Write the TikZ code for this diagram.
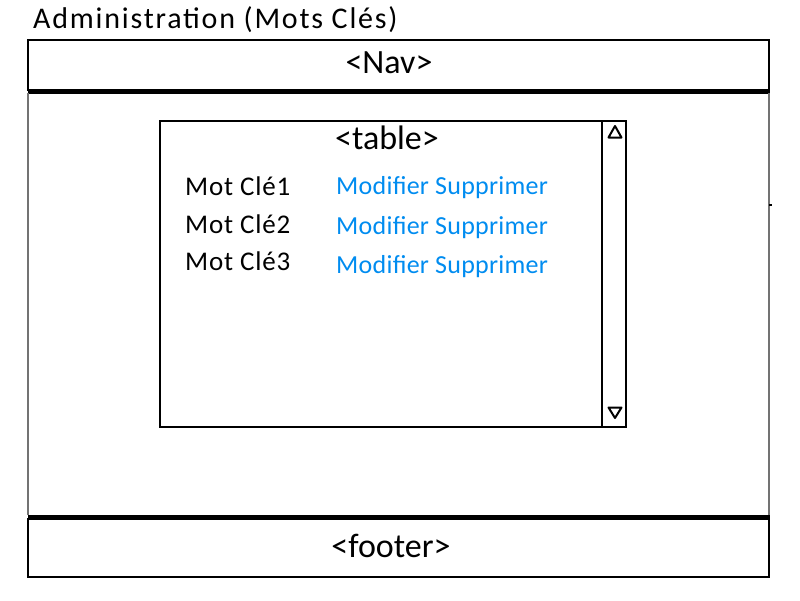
\documentclass[tikz,border=0pt]{standalone}
\usepackage{fontspec}
\setmainfont{Carlito}
\usepackage{xcolor}
\definecolor{linkblue}{RGB}{0,140,240}
\tikzstyle{every node}+=[inner sep=0pt]

\begin{document}
\begin{tikzpicture}[x=1pt,y=-1pt]
\tikzstyle{every node}+=[inner sep=0pt]
\tikzstyle{txt}=[font=\fontsize{34}{40}\selectfont, anchor=base]
\tikzstyle{row}=[anchor=base west, font=\fontsize{27}{30}\selectfont\addfontfeature{LetterSpace=3}]
\tikzstyle{frame}=[black, line width=2pt]
\tikzstyle{bar}=[black, line width=5pt]
\tikzstyle{side}=[black!55, line width=1.5pt]
\tikzstyle{link}=[anchor=base west, text=linkblue, font=\fontsize{26}{30}\selectfont\addfontfeature{LetterSpace=1}]
\useasboundingbox (0,0) rectangle (800,600);

% title
\node [anchor=base west, font=\fontsize{30}{34}\selectfont\addfontfeature{LetterSpace=6}] (title) at (33,28) {Administration (Mots Clés)};

% nav
\draw [frame] (28,91) -- (28,40) -- (769,40) -- (769,91);
\node [txt] (nav) at (389,73) {<Nav>};
\draw [bar] (28,91) -- (770,91);

% body
\draw [side] (28,93) -- (28,515);
\draw [side] (769,93) -- (769,515);
\draw [black, line width=1.5pt] (769,205) -- (772,205);

% table
\draw [frame] (160,121) rectangle (626,427);
\draw [frame] (602,121) -- (602,427);
\node [txt] (table) at (387,149) {<table>};
\draw [black, line width=2pt, line join=round] (615,126) -- (608.5,137.5) -- (621.5,137.5) -- cycle;
\draw [black, line width=2pt, line join=round] (615,418) -- (608.5,407.5) -- (621.5,407.5) -- cycle;

\node [row] (mot1) at (185,195) {Mot Clé1};
\node [row] (mot2) at (185,233) {Mot Clé2};
\node [row] (mot3) at (185,270) {Mot Clé3};
\node [link] (act1) at (336,194) {Modifier Supprimer};
\node [link] (act2) at (336,234) {Modifier Supprimer};
\node [link] (act3) at (336,273) {Modifier Supprimer};

% footer
\draw [bar] (28,517.5) -- (770,517.5);
\draw [frame] (28,517.5) -- (28,577) -- (769,577) -- (769,517.5);
\node [txt] (footer) at (391,557) {<footer>};
\end{tikzpicture}
\end{document}
